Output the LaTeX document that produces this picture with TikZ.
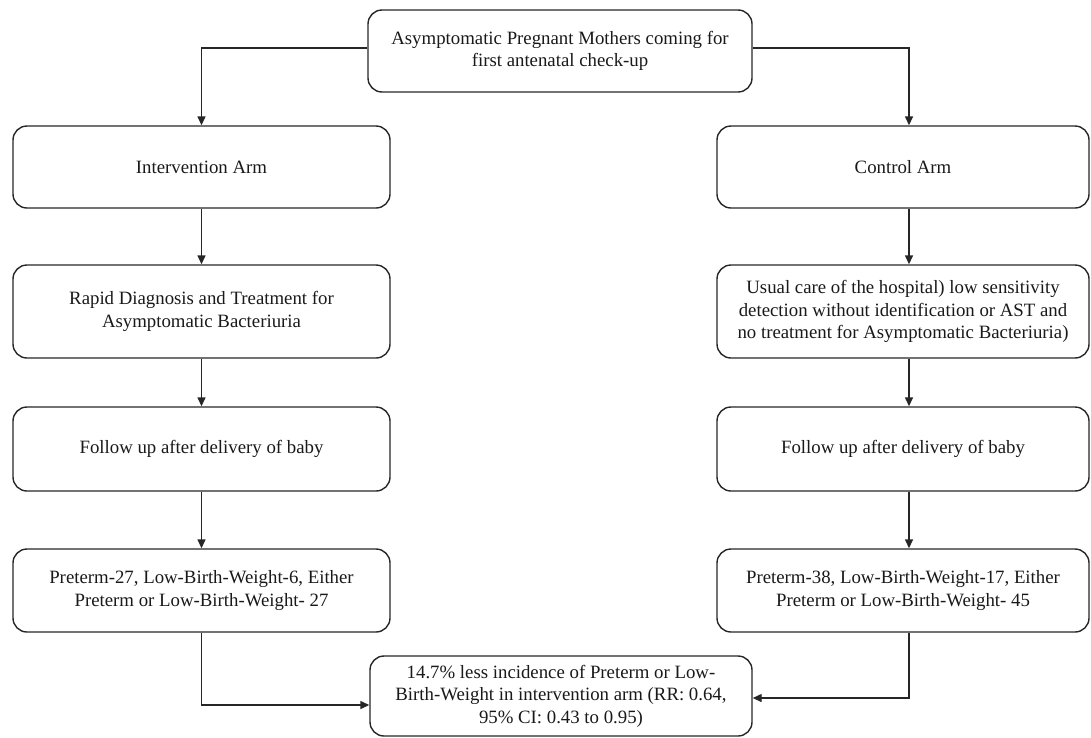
\documentclass[tikz,border=0pt]{standalone}
\usepackage{fontspec}
\setmainfont{Liberation Serif}
\usetikzlibrary{arrows.meta}
\begin{document}
\begin{tikzpicture}[x=1pt,y=-1pt,
  box/.style={draw=black!85, line width=1.4pt, rounded corners=14pt, align=center,
    inner sep=0pt, text=black!90, font=\fontsize{18.8}{22.5}\selectfont},
  arr/.style={draw=black!85, line width=1.4pt, -{Triangle[length=9pt,width=8pt]}}]
\useasboundingbox (0,0) rectangle (1091,737);
% nodes
\node[box, minimum width=384pt, minimum height=82pt] (top) at (560,51)
  {Asymptomatic Pregnant Mothers coming for\\first antenatal check-up};
\node[box, minimum width=377pt, minimum height=82pt] (intv) at (201.5,167) {Intervention Arm};
\node[box, minimum width=372pt, minimum height=82pt] (ctrl) at (903,167) {Control Arm};
\node[box, minimum width=377pt, minimum height=93pt] (rapid) at (201.5,311.5)
  {Rapid Diagnosis and Treatment for\\Asymptomatic Bacteriuria};
\node[box, minimum width=372pt, minimum height=93pt] (usual) at (903,311.5)
  {Usual care of the hospital) low sensitivity\\detection without identification or AST and\\no treatment for Asymptomatic Bacteriuria)};
\node[box, minimum width=377pt, minimum height=84pt] (fuL) at (201.5,449) {Follow up after delivery of baby};
\node[box, minimum width=372pt, minimum height=84pt] (fuR) at (903,449) {Follow up after delivery of baby};
\node[box, minimum width=377pt, minimum height=83pt] (preL) at (201.5,590.5)
  {Preterm-27, Low-Birth-Weight-6, Either\\Preterm or Low-Birth-Weight- 27};
\node[box, minimum width=372pt, minimum height=83pt] (preR) at (903,590.5)
  {Preterm-38, Low-Birth-Weight-17, Either\\Preterm or Low-Birth-Weight- 45};
\node[box, minimum width=382pt, minimum height=80pt] (res) at (561,696)
  {14.7\% less incidence of Preterm or Low-\\Birth-Weight in intervention arm (RR: 0.64,\\95\% CI: 0.43 to 0.95)};
% connectors
\draw[arr] ([yshift=3pt]top.west) -| (intv.north);
\draw[arr] ([yshift=3pt]top.east) -| ([xshift=6pt]ctrl.north);
\draw[arr] (intv.south) -- (rapid.north);
\draw[arr] ([xshift=6pt]ctrl.south) -- ([xshift=6pt]usual.north);
\draw[arr] (rapid.south) -- (fuL.north);
\draw[arr] ([xshift=6pt]usual.south) -- ([xshift=6pt]fuR.north);
\draw[arr] (fuL.south) -- (preL.north);
\draw[arr] ([xshift=6pt]fuR.south) -- ([xshift=6pt]preR.north);
\draw[arr] (preL.south) |- ([yshift=-9pt]res.west);
\draw[arr] ([xshift=6pt]preR.south) |- ([yshift=-2pt]res.east);
\end{tikzpicture}
\end{document}
